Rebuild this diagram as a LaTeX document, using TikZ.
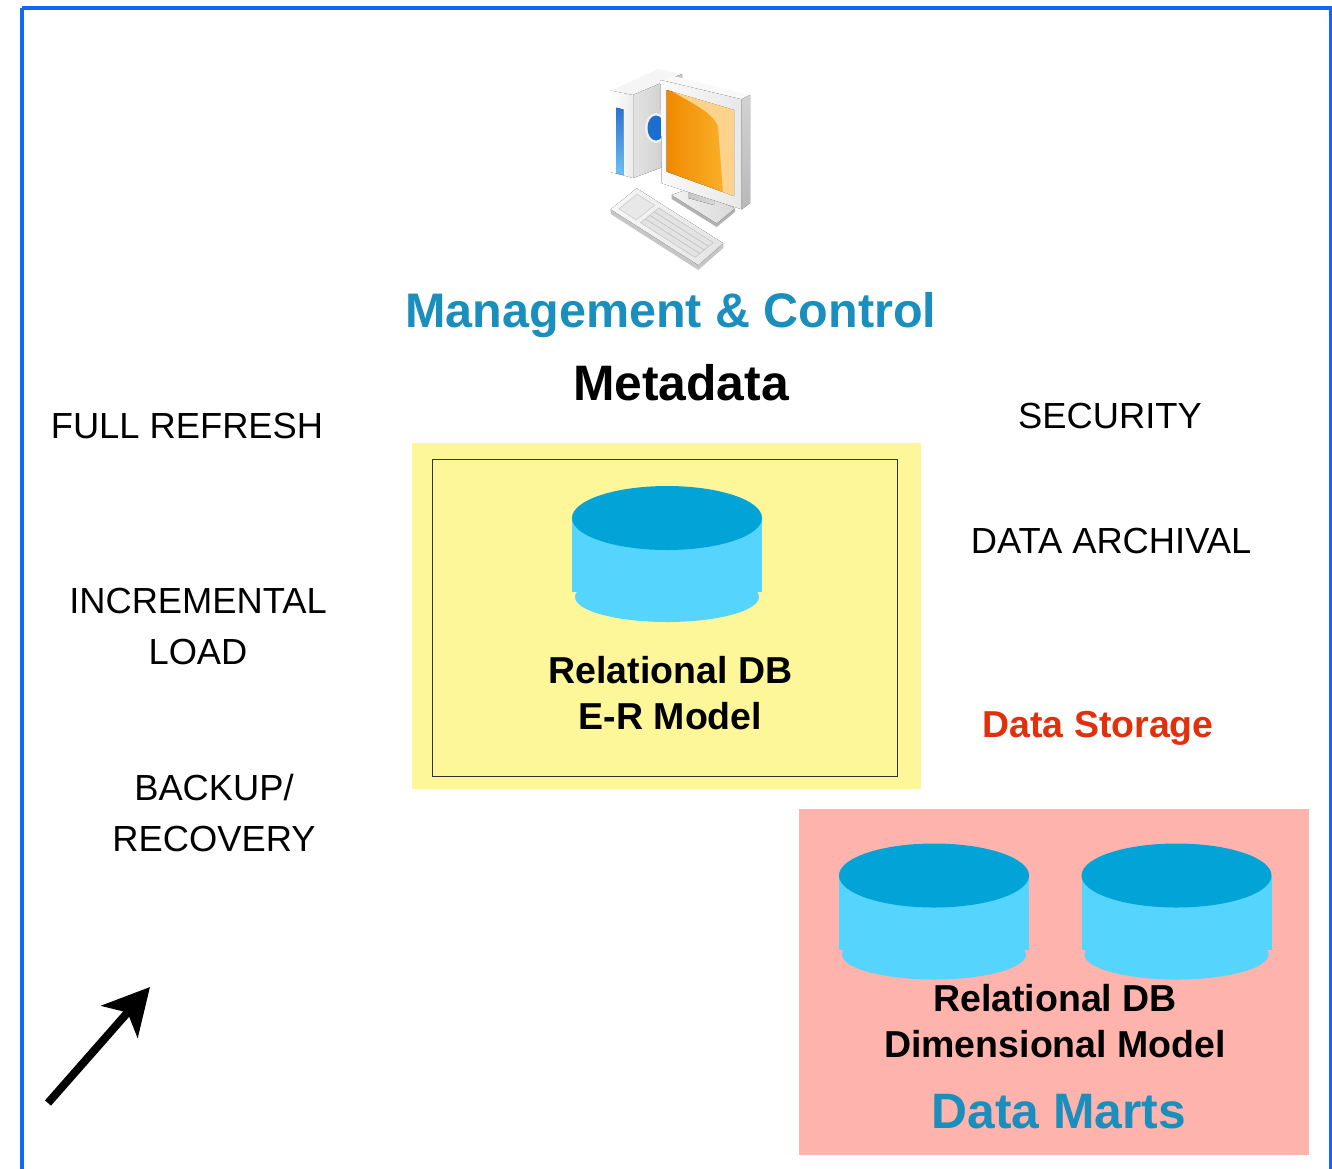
\documentclass[tikz,border=0pt]{standalone}
\usepackage{fontspec}
\setmainfont{Liberation Sans}
\usetikzlibrary{arrows.meta}

\definecolor{frameblue}{HTML}{1367F4}
\definecolor{titleblue}{HTML}{1A8EBC}
\definecolor{stored}{HTML}{E0300C}
\definecolor{paleyellow}{HTML}{FEF799}
\definecolor{palepink}{HTML}{FEB3AD}
\definecolor{disktop}{HTML}{02A4D8}
\definecolor{diskbody}{HTML}{55D4FE}
\definecolor{scrA}{HTML}{F08A00}
\definecolor{scrB}{HTML}{FBB530}
\definecolor{scrGlare}{HTML}{FDD28C}
\definecolor{stripeA}{HTML}{2A72D5}
\definecolor{stripeB}{HTML}{68C2F7}
\definecolor{lensblue}{HTML}{1C6DD0}

\begin{document}
\begin{tikzpicture}[x=1pt,y=-1pt,
  lbl/.style={font=\fontsize{36.3}{51}\selectfont, align=center, inner sep=0pt},
  boldlbl/.style={font=\fontsize{37.5}{46}\selectfont\bfseries, align=center, inner sep=0pt},
  biglbl/.style={font=\fontsize{48.5}{56}\selectfont\bfseries, inner sep=0pt},
  hugelbl/.style={font=\fontsize{49.8}{56}\selectfont\bfseries, inner sep=0pt},
  dbdisk/.pic={
    \fill[diskbody] (-95,0) rectangle (95,74);
    \fill[diskbody] (0,79) ellipse[x radius=92, y radius=25];
    \fill[disktop] (0,0) ellipse[x radius=95, y radius=32];
  }]

% page and frame
\fill[white] (0,0) rectangle (1332,1168);
\clip (0,0) rectangle (1332,1168);
\draw[frameblue, line width=3.5pt] (22,8) -- (1331,8) -- (1331,1200) (22,8) -- (22,1200);

% ---- workstation icon ----
% keyboard
\fill[gray!45] (610.7,209.3) -- (698.3,265) -- (723.3,243.3) -- (723.3,248) -- (698.3,270) -- (610.7,214) -- cycle;
\fill[left color=gray!6, right color=gray!22] (610.7,209.3) -- (636.7,188.3) -- (723.3,243.3) -- (698.3,265) -- cycle;
\fill[gray!18, draw=gray!40, line width=0.6pt] (637.1,194.2) -- (654.5,205.2) -- (636.3,219.9) -- (618.9,208.9) -- cycle;
\fill[gray!22, draw=gray!45, line width=0.6pt] (658.8,208.0) -- (713.3,242.6) -- (695.1,257.3) -- (640.6,222.7) -- cycle;
\draw[gray!50, line width=0.6pt] (654.1,211.7) -- (708.7,246.4) (649.7,215.3) -- (704.2,249.95) (645.3,218.9) -- (699.8,253.5);
% tower
\fill[gray!8] (610.7,90.7) -- (658,69) -- (682,74) -- (633,95) -- cycle;
\fill[left color=gray!22, right color=gray!45] (633,95) -- (682,74) -- (682,160) -- (633,178) -- cycle;
\fill[left color=white, right color=gray!15] (610.7,90.7) -- (633,95) -- (633,178) -- (610.7,172) -- cycle;
\fill[top color=stripeA, bottom color=stripeB] (616.7,107.7) -- (623.3,109.5) -- (623.3,175) -- (616.7,173.3) -- cycle;
\fill[gray!12] (656,128) ellipse[x radius=11, y radius=15];
\fill[lensblue] (656,128) ellipse[x radius=8.5, y radius=12.5];
% stand
\fill[gray!60] (671.7,195) -- (716.7,223.3) -- (735,208.3) -- (735,212) -- (716.7,227) -- (671.7,199) -- cycle;
\fill[left color=gray!10, right color=gray!30] (671.7,195) -- (690,188.3) -- (735,208.3) -- (716.7,223.3) -- cycle;
\fill[left color=gray!45, right color=gray!30] (688,184) -- (714,192) -- (714,205) -- (688,198) -- cycle;
% monitor
\fill[gray!5] (660.7,80) -- (673.3,76) -- (750,95) -- (741.7,99.3) -- cycle;
\fill[top color=gray!35, bottom color=gray!55] (741.7,99.3) -- (750,95) -- (750,203) -- (741.7,209.3) -- cycle;
\fill[left color=gray!4, right color=gray!18] (660.7,80) -- (741.7,99.3) -- (741.7,209.3) -- (661.7,183.3) -- cycle;
\fill[left color=scrA, right color=scrB] (666.7,90) -- (734,110) -- (734,196) -- (666.7,171.7) -- cycle;
\fill[scrGlare] (673,91.8) .. controls (695,105) and (712,112) .. (718,126) -- (723,192) -- (734,196) -- (734,110) -- cycle;

% ---- storage areas ----
\fill[paleyellow] (412,443) rectangle (921,789);
\draw[gray!40!black, line width=1.2pt] (432.5,459.5) rectangle (897.5,776.5);
\fill[palepink] (799,809) rectangle (1309,1155);

\pic (erdisk) at (667,518) {dbdisk};
\pic (martdiskA) at (934,875.5) {dbdisk};
\pic (martdiskB) at (1176.5,875.5) {dbdisk};

% ---- labels ----
\node[biglbl, anchor=base, text=titleblue] (mgmt) at (671,327) {Management \& Control};
\node[hugelbl, anchor=base] (meta) at (681,400) {Metadata};
\node[lbl, anchor=base] (fullrefresh) at (187,438) {FULL REFRESH};
\node[lbl] (incload) at (198,626.5) {INCREMENTAL\\LOAD};
\node[lbl] (backup) at (214,813) {BACKUP/\\RECOVERY};
\node[lbl, anchor=base] (security) at (1110,428) {SECURITY};
\node[lbl, anchor=base] (archival) at (1111,553) {DATA ARCHIVAL};
\node[boldlbl, anchor=base, text=stored] (storage) at (1098,737) {Data Storage};
\node[boldlbl] (ermodel) at (670.5,693) {Relational DB\\E-R Model};
\node[boldlbl] (dimmodel) at (1055,1021) {Relational DB\\Dimensional Model};
\node[hugelbl, anchor=base, text=titleblue] (marts) at (1059,1128) {Data Marts};

% ---- flow arrow ----
\coordinate (arrowfoot) at (48,1103);
\coordinate (arrowtip) at (150,987);
\draw[line width=8pt, -{Stealth[length=46pt, width=48pt, inset=12pt]}] (arrowfoot) -- (arrowtip);
\end{tikzpicture}
\end{document}
